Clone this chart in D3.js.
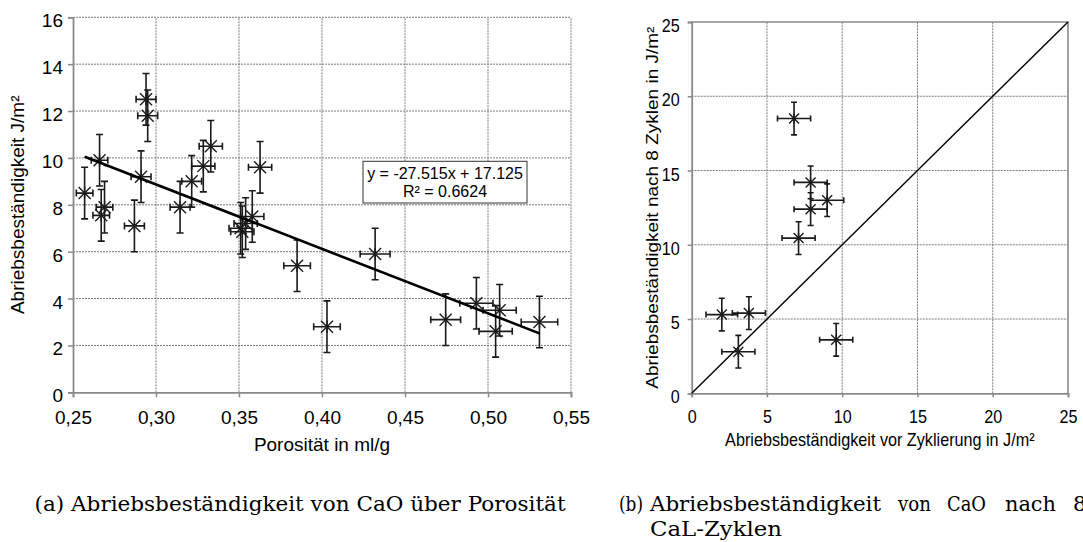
<!DOCTYPE html>
<html>
<head>
<meta charset="utf-8">
<script src="https://cdn.jsdelivr.net/npm/d3@7"></script>
<style>
  body { margin: 0; background: #fff; }
  svg { display: block; }
  .sans { font-family: "Liberation Sans", Arial, sans-serif; fill: #000; }
  .serif { font-family: "DejaVu Serif", "Liberation Serif", serif; fill: #000; }
</style>
</head>
<body>
<svg id="fig" width="1083" height="542"></svg>
<script>
// ---- Panel (a): abrasion resistance of CaO vs. porosity ----
const porosity     = [0.257, 0.266, 0.269, 0.267, 0.287, 0.291, 0.294, 0.295, 0.3145, 0.3215, 0.3285, 0.333,
                      0.351, 0.352, 0.354, 0.358, 0.3627, 0.385, 0.403, 0.432, 0.4745, 0.493, 0.507, 0.5046, 0.531];
const porosityErr  = [0.005, 0.005, 0.005, 0.005, 0.006, 0.006, 0.006, 0.006, 0.006, 0.006, 0.007, 0.007,
                      0.007, 0.007, 0.007, 0.007, 0.007, 0.008, 0.008, 0.009, 0.009, 0.010, 0.010, 0.010, 0.011];
const abrasion     = [8.5, 9.9, 7.9, 7.55, 7.1, 9.2, 12.5, 11.8, 7.9, 9.0, 9.65, 10.5,
                      7.0, 6.85, 7.2, 7.5, 9.6, 5.4, 2.8, 5.9, 3.1, 3.8, 3.5, 2.6, 3.0];
const abrasionErr  = [1.1, 1.1, 1.1, 1.1, 1.1, 1.1, 1.1, 1.1, 1.1, 1.1, 1.1, 1.1,
                      1.1, 1.1, 1.1, 1.1, 1.1, 1.1, 1.1, 1.1, 1.1, 1.1, 1.1, 1.1, 1.1];
const porosityTicks = [0.25, 0.30, 0.35, 0.40, 0.45, 0.50, 0.55];
const abrasionTicks = [0, 2, 4, 6, 8, 10, 12, 14, 16];
const fitSlope = -27.515, fitIntercept = 17.125, fitR2 = 0.6624;

// ---- Panel (b): abrasion resistance before / after 8 CaL cycles ----
const beforeCycling    = [6.8, 7.9, 7.9, 9.0, 7.1, 2.0, 3.8, 3.1, 9.6];
const beforeCyclingErr = [1.1, 1.1, 1.1, 1.1, 1.1, 1.05, 1.1, 1.1, 1.1];
const afterCycling     = [18.5, 14.2, 12.4, 13.0, 10.45, 5.3, 5.4, 2.8, 3.6];
const afterCyclingErr  = [1.1, 1.1, 1.1, 1.1, 1.1, 1.1, 1.1, 1.1, 1.1];
const cyclingTicks = [0, 5, 10, 15, 20, 25];

const svg = d3.select("#fig");
const GRID = "#6e6e6e", AXIS = "#8a8a8a", INK = "#1a1a1a";

function grid(g, xs, ys, xTicks, yTicks) {
  const [x0, x1] = xs.domain(), [y0, y1] = ys.domain();
  g.selectAll(null).data(xTicks.filter(t => t > x0)).join("line")
    .attr("x1", d => xs(d)).attr("x2", d => xs(d))
    .attr("y1", ys(y0)).attr("y2", ys(y1))
    .attr("stroke", GRID).attr("stroke-width", 0.9).attr("stroke-dasharray", "2,1");
  g.selectAll(null).data(yTicks.filter(t => t > y0)).join("line")
    .attr("y1", d => ys(d)).attr("y2", d => ys(d))
    .attr("x1", xs(x0)).attr("x2", xs(x1))
    .attr("stroke", GRID).attr("stroke-width", 0.9).attr("stroke-dasharray", "2,1");
}

function styleAxis(g) {
  g.select(".domain").attr("stroke", AXIS).attr("stroke-width", 1.8);
  g.selectAll(".tick line").attr("stroke", AXIS).attr("stroke-width", 1.5);
  g.selectAll(".tick text").attr("class", "sans").attr("fill", "#000");
}

function star(g, xs, ys, xv, yv, r) {
  g.selectAll(null).data(xv.map((x, i) => [x, yv[i]])).join("path")
    .attr("transform", d => `translate(${xs(d[0])},${ys(d[1])})`)
    .attr("d", `M${-r},${-r}L${r},${r}M${-r},${r}L${r},${-r}M0,${-r}L0,${r}`)
    .attr("fill", "none").attr("stroke", INK).attr("stroke-width", 1.4);
}

function errorBars(g, xs, ys, xv, yv, xe, ye, cap) {
  const pts = xv.map((x, i) => ({ x, y: yv[i], xe: xe[i], ye: ye[i] }));
  g.selectAll(null).data(pts).join("path")
    .attr("d", d => {
      const cx = xs(d.x), cy = ys(d.y);
      const yt = ys(d.y + d.ye), yb = ys(d.y - d.ye);
      const xl = xs(d.x - d.xe), xr = xs(d.x + d.xe);
      return `M${cx},${yt}V${yb}M${cx - cap},${yt}H${cx + cap}M${cx - cap},${yb}H${cx + cap}` +
             `M${xl},${cy}H${xr}M${xl},${cy - cap}V${cy + cap}M${xr},${cy - cap}V${cy + cap}`;
    })
    .attr("fill", "none").attr("stroke", INK).attr("stroke-width", 1.6);
}

// ================= Panel (a) =================
{
  const xs = d3.scaleLinear().domain([0.25, 0.55]).range([73, 571]);
  const ys = d3.scaleLinear().domain([0, 16]).range([392.3, 17.3]);
  const g = svg.append("g");
  grid(g, xs, ys, porosityTicks, abrasionTicks);

  const fmt = d => d.toFixed(2).replace(".", ",");
  g.append("g").attr("transform", `translate(0,${ys(0)})`)
    .call(d3.axisBottom(xs).tickValues(porosityTicks).tickFormat(fmt).tickSizeOuter(0).tickSize(5).tickPadding(13))
    .call(styleAxis)
    .call(a => a.selectAll(".tick text").attr("font-size", 19));
  g.append("g").attr("transform", `translate(${xs(0.25)},0)`)
    .call(d3.axisLeft(ys).tickValues(abrasionTicks).tickFormat(d3.format("d")).tickSizeOuter(0).tickSize(5).tickPadding(5))
    .call(styleAxis)
    .call(a => a.selectAll(".tick text").attr("font-size", 19).attr("dy", "0.5em"));

  errorBars(g, xs, ys, porosity, abrasion, porosityErr, abrasionErr, 3.5);
  star(g, xs, ys, porosity, abrasion, 6);

  // linear trend line over the measured porosity range
  const [fx0, fx1] = d3.extent(porosity);
  g.append("line")
    .attr("x1", xs(fx0)).attr("y1", ys(fitSlope * fx0 + fitIntercept))
    .attr("x2", xs(fx1)).attr("y2", ys(fitSlope * fx1 + fitIntercept))
    .attr("stroke", "#000").attr("stroke-width", 2.6);

  // regression label
  const bx = 363, by = 161.3;
  g.append("rect").attr("x", bx).attr("y", by).attr("width", 164).attr("height", 41.7)
    .attr("fill", "#fff").attr("stroke", "#333").attr("stroke-width", 1);
  g.append("text").attr("class", "sans").attr("x", bx + 82).attr("y", by + 17.5)
    .attr("text-anchor", "middle").attr("font-size", 16)
    .text(`y = ${fitSlope.toFixed(3)}x + ${fitIntercept.toFixed(3)}`);
  g.append("text").attr("class", "sans").attr("x", bx + 82).attr("y", by + 35.5)
    .attr("text-anchor", "middle").attr("font-size", 16)
    .text(`R² = ${fitR2}`);

  g.append("text").attr("class", "sans").attr("font-size", 19).attr("text-anchor", "middle")
    .attr("x", (xs.range()[0] + xs.range()[1]) / 2).attr("y", 451)
    .text("Porosität in ml/g");
  g.append("text").attr("class", "sans").attr("font-size", 19).attr("text-anchor", "middle")
    .attr("transform", `translate(24,${(ys.range()[0] + ys.range()[1]) / 2}) rotate(-90)`)
    .text("Abriebsbeständigkeit J/m²");
}

// ================= Panel (b) =================
{
  const xs = d3.scaleLinear().domain([0, 25]).range([691.7, 1068]);
  const ys = d3.scaleLinear().domain([0, 25]).range([393.3, 22]);
  const SQ = 0.85; // horizontal squeeze of this panel's lettering
  const g = svg.append("g");
  grid(g, xs, ys, cyclingTicks.slice(0, -1), cyclingTicks.slice(0, -1));

  // plot frame (top and right)
  g.append("path")
    .attr("d", `M${xs(0)},${ys(25)}H${xs(25)}V${ys(0)}`)
    .attr("fill", "none").attr("stroke", AXIS).attr("stroke-width", 1.6);

  g.append("g").attr("transform", `translate(0,${ys(0)})`)
    .call(d3.axisBottom(xs).tickValues(cyclingTicks).tickFormat(d3.format("d")).tickSizeOuter(0).tickSize(4).tickPadding(12))
    .call(styleAxis)
    .call(a => a.selectAll(".tick text").attr("font-size", 19).attr("transform", `scale(${SQ},1)`));
  g.append("g").attr("transform", `translate(${xs(0)},0)`)
    .call(d3.axisLeft(ys).tickValues(cyclingTicks).tickFormat(d3.format("d")).tickSizeOuter(0).tickSize(4).tickPadding(10))
    .call(styleAxis)
    .call(a => a.selectAll(".tick text").attr("font-size", 19).attr("dy", "0.5em").attr("transform", `scale(${SQ},1)`));

  // 1:1 reference line
  g.append("line")
    .attr("x1", xs(0)).attr("y1", ys(0)).attr("x2", xs(25)).attr("y2", ys(25))
    .attr("stroke", "#000").attr("stroke-width", 1.4);

  errorBars(g, xs, ys, beforeCycling, afterCycling, beforeCyclingErr, afterCyclingErr, 3);
  star(g, xs, ys, beforeCycling, afterCycling, 5);

  g.append("text").attr("class", "sans").attr("font-size", 18).attr("text-anchor", "middle")
    .attr("transform", `translate(${(xs.range()[0] + xs.range()[1]) / 2},446) scale(0.9,1)`)
    .text("Abriebsbeständigkeit vor Zyklierung in J/m²");
  g.append("text").attr("class", "sans").attr("font-size", 19).attr("text-anchor", "middle")
    .attr("transform", `translate(658,${(ys.range()[0] + ys.range()[1]) / 2}) scale(${SQ},1) rotate(-90)`)
    .text("Abriebsbeständigkeit nach 8 Zyklen in J/m²");
}

// ================= Captions =================
svg.append("text").attr("class", "serif").attr("font-size", 21)
  .attr("x", 34.6).attr("y", 510.5)
  .attr("textLength", 531).attr("lengthAdjust", "spacingAndGlyphs")
  .text("(a) Abriebsbeständigkeit von CaO über Porosität");

// justified first line of caption (b): word start and width
const captionB = ["(b)", "Abriebsbeständigkeit", "von", "CaO", "nach", "8"];
const captionBx = [619, 650, 898, 947, 1005, 1073];
const captionBw = [24, 231, 33, 39, 51, 0];
svg.append("g").selectAll("text").data(captionB).join("text")
  .attr("class", "serif").attr("font-size", 21)
  .attr("x", (d, i) => captionBx[i]).attr("y", 510.5)
  .each(function (d, i) {
    if (captionBw[i] > 0) d3.select(this).attr("textLength", captionBw[i]).attr("lengthAdjust", "spacingAndGlyphs");
  })
  .text(d => d);
svg.append("text").attr("class", "serif").attr("font-size", 21)
  .attr("x", 650).attr("y", 536)
  .attr("textLength", 132).attr("lengthAdjust", "spacingAndGlyphs")
  .text("CaL-Zyklen");
</script>
</body>
</html>
